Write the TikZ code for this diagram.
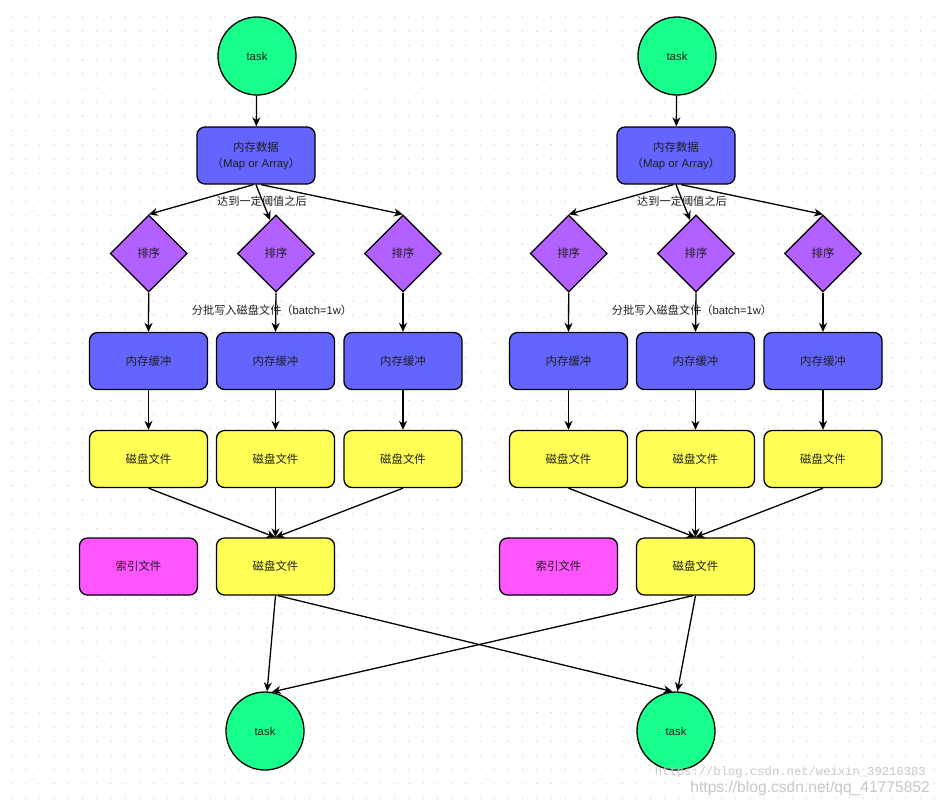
\documentclass[tikz,border=0pt]{standalone}
\usepackage{fontspec}
\setmainfont{Liberation Sans}
\newfontfamily\cjk{Noto Sans CJK SC}
\newfontfamily\wmmono{Liberation Mono}
\usetikzlibrary{shapes.geometric,arrows.meta}
\definecolor{taskgreen}{RGB}{25,255,140}
\definecolor{memblue}{RGB}{100,100,255}
\definecolor{sortpurple}{RGB}{178,96,255}
\definecolor{fileyellow}{RGB}{255,255,85}
\definecolor{idxmagenta}{RGB}{255,85,255}
\definecolor{griddot}{RGB}{212,212,212}
\definecolor{wmgray}{RGB}{200,200,200}
\tikzset{
  base/.style={draw=black, line width=1.3pt, font=\fontsize{11.4}{16}\selectfont, text=black!88, inner sep=0pt},
  taskc/.style={base, circle, fill=taskgreen, minimum size=78pt},
  membox/.style={base, rounded corners=8pt, fill=memblue, minimum width=118pt, minimum height=57pt, align=center},
  sortdia/.style={base, diamond, fill=sortpurple, minimum width=77pt, minimum height=77pt},
  filebox/.style={base, rounded corners=8pt, fill=fileyellow, minimum width=118pt, minimum height=57pt},
  idxbox/.style={base, rounded corners=8pt, fill=idxmagenta, minimum width=118pt, minimum height=57pt},
  arr/.style={line width=1.3pt, -{Stealth[length=9pt,width=8pt,inset=2.8pt]}},
  lbl/.style={font=\fontsize{11.2}{14}\selectfont, inner sep=0pt, text=black!88}
}
\begin{document}
\begin{tikzpicture}[x=1pt,y=-1pt]
\useasboundingbox (0,0) rectangle (939,807);
\fill[white] (0,0) rectangle (939,807);
% dotted grid
\foreach \i in {0,...,65}{
  \foreach \j in {0,...,55}{
    \fill[griddot] ({11.5+14.2*\i},{17+14.2*\j}) circle (0.75pt);
  }
}
% two groups
\foreach \g/\dx in {A/0,B/420}{
  \node[taskc] (t\g) at ({257+\dx},56) {task};
  \node[membox] (m\g) at ({256+\dx},155.5) {{\cjk 内存数据}\\{\cjk （}Map or Array{\cjk ）}};
  \node[sortdia] (d1\g) at ({148.7+\dx},253.5) {\cjk 排序};
  \node[sortdia] (d2\g) at ({276+\dx},253.5) {\cjk 排序};
  \node[sortdia] (d3\g) at ({403+\dx},253.5) {\cjk 排序};
  \node[membox] (b1\g) at ({148.5+\dx},361) {\cjk 内存缓冲};
  \node[membox] (b2\g) at ({275.5+\dx},361) {\cjk 内存缓冲};
  \node[membox] (b3\g) at ({403+\dx},361) {\cjk 内存缓冲};
  \node[filebox] (f1\g) at ({148.5+\dx},459) {\cjk 磁盘文件};
  \node[filebox] (f2\g) at ({275.5+\dx},459) {\cjk 磁盘文件};
  \node[filebox] (f3\g) at ({403+\dx},459) {\cjk 磁盘文件};
  \node[filebox] (f0\g) at ({275.5+\dx},566.5) {\cjk 磁盘文件};
  \node[idxbox] (x\g) at ({138.5+\dx},566.5) {\cjk 索引文件};
  \draw[arr] (t\g) -- (m\g);
  \draw[arr] (m\g.-95) -- (d1\g.north);
  \draw[arr] (m\g.south) -- (d2\g.100);
  \draw[arr] (m\g.-80) -- (d3\g.north);
  \node[lbl] (la\g) at ({262+\dx},201) {\cjk 达到一定阈值之后};
  \node[lbl] (lb\g) at ({272+\dx},310) {{\cjk 分批写入磁盘文件（}batch=1w{\cjk ）}};
  \foreach \k in {1,2,3}{
    \draw[arr] (d\k\g.south) -- (b\k\g.north);
    \draw[arr] (b\k\g.south) -- (f\k\g.north);
    \draw[arr] (f\k\g.south) -- (f0\g.north);
  }
}
% bottom tasks
\node[taskc] (tL) at (265,731) {task};
\node[taskc] (tR) at (676,731) {task};
\draw[arr] (f0A.south) -- (tL.87);
\draw[arr] (f0A.-85) -- (tR.95);
\draw[arr] (f0B.-95) -- (tL.80);
\draw[arr] (f0B.south) -- (tR.88);
% watermarks
\node[anchor=base east, inner sep=0pt, text=wmgray, font=\wmmono\fontsize{12.2}{13}\selectfont] (wm1) at (926,775) {https://blog.csdn.net/weixin\_39216383};
\node[anchor=base east, inner sep=0pt, text=wmgray, font=\fontsize{15.6}{16}\selectfont] (wm2) at (930,792) {https://blog.csdn.net/qq\_41775852};
\end{tikzpicture}
\end{document}
